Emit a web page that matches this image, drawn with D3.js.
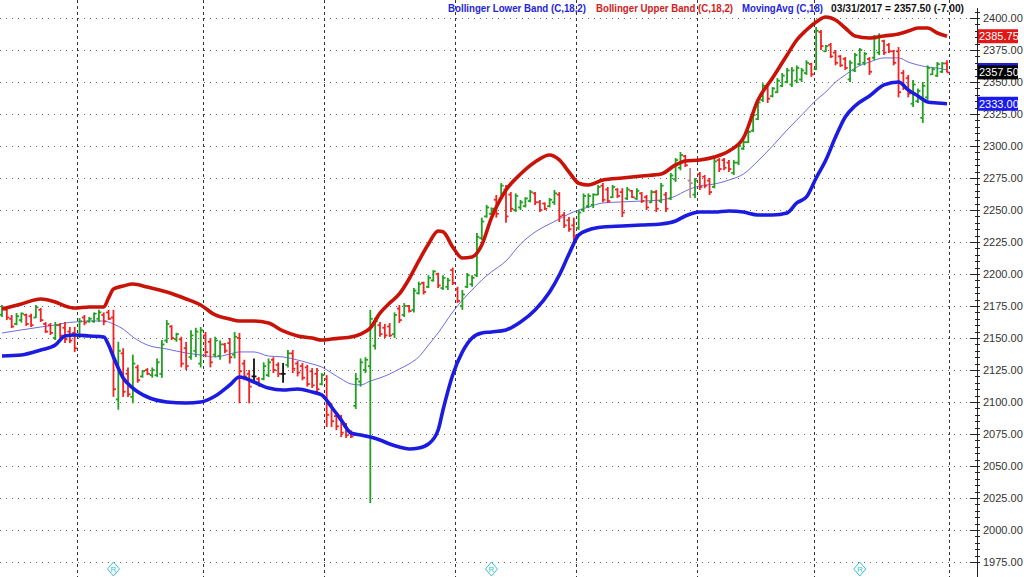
<!DOCTYPE html>
<html>
<head>
<meta charset="utf-8">
<script src="https://cdn.jsdelivr.net/npm/d3@7"></script>
<style>
  body { margin: 0; background: #fff; }
  svg { display: block; font-family: Arial, "Liberation Sans", sans-serif; }
</style>
</head>
<body>
<div id="chart"></div>
<script>
// bars: [open, high, low, close]
var bars = [
  [2168,2175.8,2166.4,2174],[2172,2173.4,2164,2166],[2165,2168,2157.8,2159],[2161,2169.5,2160,2167],
  [2164,2170,2162,2169],[2168,2169,2159.4,2161],[2167,2169,2158.6,2160],[2166,2175.8,2165.6,2174],
  [2172,2173.4,2162.5,2164],[2161,2162.5,2153.9,2155],[2160,2161.7,2152.3,2154],[2150,2162.5,2148.4,2160],
  [2160,2161.7,2150,2152],[2158,2162.5,2146,2149],[2155,2158.6,2146,2148],[2154,2158.6,2139,2142],
  [2152,2165.6,2150,2163],[2166,2168,2160,2162],[2163,2166.4,2162,2165],[2163,2170,2162,2169],
  [2165,2172,2162.5,2170],[2168,2170,2160,2163],[2170,2172,2164,2165],[2166,2172,2104,2110],
  [2102,2147,2094,2140],[2138,2142,2104,2108],[2122,2127,2104,2106],[2104,2137,2099,2130],
  [2127,2129,2115,2117],[2120,2125,2119,2124],[2125,2126.5,2121,2122],[2121,2127,2119,2125],
  [2121,2134,2119.5,2131],[2122,2148.4,2119,2145],[2148,2164,2146,2161],[2159,2160,2148.4,2150],
  [2149,2154,2147,2153],[2149,2151,2127,2130],[2142,2147,2125,2128],[2135,2156,2133,2152],
  [2140,2158,2135,2155],[2130,2158.6,2127,2156],[2152,2154.7,2135,2139],[2147,2150,2127,2131],
  [2137,2151,2135,2148],[2136,2148,2133,2145],[2145,2146,2138,2140],[2146,2150,2130,2135],
  [2137,2154.7,2134,2151],[2150,2154,2099,2124],[2130,2133,2117,2120],[2122,2125,2099,2112],
  [2120,2134,2114.6,2120],[2118,2119.5,2112,2113],[2118,2131,2117,2128],[2121,2134,2119.5,2131],
  [2133,2135,2122.6,2125],[2129,2131,2119.5,2122],[2122,2130.5,2115,2122],[2129,2140.6,2127,2138],
  [2138,2140.6,2122.6,2126],[2130,2132,2120,2123],[2128,2130.5,2117,2119],[2127,2129,2112,2114],
  [2124,2126.5,2111,2113],[2122,2126.5,2107,2110],[2114,2122.6,2113,2121],[2118,2121,2080.5,2090],
  [2097,2099,2080.5,2085],[2089,2091,2078,2081],[2086,2090,2072.6,2076],[2081,2083.6,2071.9,2074],
  [2077,2078,2071.9,2073],[2097,2122.6,2094.5,2118],[2116,2134,2112,2131],[2125,2135,2122.6,2133],
  [2128,2172,2021,2165],[2144,2166,2141,2163],[2160,2162.5,2151,2153],[2158,2161,2150,2152],
  [2159,2161.7,2150.8,2152],[2153,2170,2150,2168],[2173,2175.8,2161.7,2164],[2168,2177.3,2166.4,2175],
  [2175,2175.8,2170,2171],[2172,2189,2170,2187],[2185,2194,2184,2192],[2193,2194,2184,2186],
  [2190,2199,2189,2197],[2195,2203,2194,2202],[2200,2201,2189,2191],[2189,2199,2187.5,2197],
  [2190,2197,2187.5,2195],[2203,2205,2191.4,2193],[2188,2190,2177.3,2179],[2175,2187.5,2172,2184],
  [2190,2200.8,2189,2199],[2192,2199,2190,2197],[2199,2232,2197.7,2229],[2228,2244,2226.6,2241],
  [2245,2254,2244,2252],[2247,2252,2246,2251],[2258,2261.7,2244,2247],[2259,2271,2257.8,2269],
  [2266,2269.5,2240,2245],[2262,2264,2248.4,2251],[2250,2263,2248.4,2261],[2252,2257.8,2250,2256],
  [2253,2260,2252,2259],[2257,2265.6,2256,2264],[2263,2264,2254,2256],[2256,2257.8,2248.4,2250],
  [2255,2256,2250,2251],[2253,2259.4,2252,2258],[2256,2265.6,2254,2263],[2262,2264,2240.6,2245],
  [2246,2248.4,2236,2238],[2242,2244.5,2233,2235],[2238,2244,2224,2230],[2236,2250,2234.4,2248],
  [2250,2263,2248.4,2261],[2253,2263,2251.5,2261],[2254,2263,2251.5,2262],[2262,2269.5,2261.7,2268],
  [2269,2271,2256,2258],[2266,2268,2255.5,2257],[2260,2269.5,2259.4,2268],[2266,2267,2259.4,2261],
  [2264,2267,2244.5,2248],[2259,2268,2257.8,2266],[2265,2265.6,2259.4,2260],[2259,2267,2257.8,2265],
  [2263,2264,2255.5,2257],[2260,2261.7,2250,2252],[2256,2265.6,2255.5,2264],[2264,2265.6,2248.4,2251],
  [2257,2271,2255.5,2269],[2262,2264,2248.4,2251],[2259,2279,2257.8,2277],[2274,2290.6,2271.9,2289],
  [2283,2295.3,2281,2293],[2292,2293,2283.6,2285],[2273,2282.8,2259.4,2271],[2262,2275,2259.4,2273],
  [2278,2279.7,2265.6,2268],[2276,2277.3,2267,2269],[2273,2275,2261.7,2264],[2268,2290.6,2267,2288],
  [2289,2290.6,2279.7,2282],[2289,2290.6,2281,2283],[2287,2289,2279.7,2282],[2279,2289,2277.3,2287],
  [2287,2302,2285,2300],[2298,2304.7,2296.9,2303],[2303,2312.5,2302.3,2311],[2312,2325.8,2311,2324],
  [2321,2336,2320.3,2334],[2336,2349,2334.4,2347],[2347,2349,2333.6,2337],[2339,2346,2338,2345],
  [2342,2353,2341.4,2351],[2347,2357,2346,2355],[2350,2361,2349,2359],[2348,2361.7,2346,2359],
  [2351,2363,2349,2361],[2352,2361,2350,2359],[2357,2367,2355.5,2365],[2364,2365,2354,2356],
  [2360,2393,2359.4,2390],[2389,2390.6,2375,2378],[2374,2379,2373.4,2378],[2379,2380.5,2368.75,2370],
  [2373,2375,2363,2365],[2370,2371,2361.7,2363],[2368,2369.5,2359.4,2361],[2352,2367,2350,2365],
  [2359,2372.6,2357.8,2371],[2364,2376.6,2363,2375],[2365,2373.4,2363,2372],[2368,2369.5,2355.5,2358],
  [2369,2386.7,2367,2384],[2373,2388,2371,2386],[2382,2383,2371,2373],[2379,2380.5,2372.6,2374],
  [2374,2375,2363,2365],[2374,2377.3,2338,2342],[2357,2359.4,2343.75,2346],[2353,2355.5,2338,2341],
  [2333,2351.6,2330.5,2348],[2335,2345,2333.6,2343],[2322,2350,2318,2347],[2338,2363,2336,2361],
  [2356,2361.7,2355.5,2360],[2355,2365.6,2354,2364],[2358,2365.6,2357,2364.5],[2364.5,2367,2357.5,2357.5]
];
var mutedBars = [142];

var bandIdx = [0,4,8,11,13,15,18,21,22,23, 25,27,30,34,38,41,44,47,49,52,
  55,58,61,64,66,68,70,72,74,76, 78,80,82,84,86,88,90,91,93,95,
  97,99,101,104,107,110,113,115,117,119, 121,124,128,132,136,139,141,144,147,150,
  153,156,159,162,164,166,168,170,172,174, 176,179,182,185,187,189,191,193,195];
var upperBand = [2172.7,2176.6,2180.5,2178.1,2175.0,2173.4,2174.2,2174.2,2181.3,2188.3,
  2190.6,2192.2,2189.8,2185.9,2180.5,2175.8,2168.0,2164.8,2163.3,2163.3,
  2161.7,2155.5,2151.6,2150.0,2148.4,2149.2,2150.0,2150.8,2153.1,2157.8,
  2169.5,2177.3,2184.4,2196.1,2210.2,2223.4,2233.6,2233.0,2221.1,2212.5,
  2213.3,2222.7,2243.8,2265.6,2278.1,2287.5,2293.0,2289.1,2279.7,2270.9,
  2269.5,2273.4,2275.0,2276.6,2278.1,2285.2,2288.3,2289.1,2291.4,2296.1,
  2306.3,2335.9,2353.1,2371.1,2382.8,2390.6,2396.9,2400.8,2398.4,2392.2,
  2386.0,2384.4,2386.0,2387.5,2389.8,2392.2,2392.2,2388.3,2385.75];
var lowerBand = [2135.9,2136.7,2140.6,2144.5,2151.6,2152.3,2151.6,2150.8,2144.5,2135.2,
  2118.8,2110.9,2103.9,2100.0,2099.2,2100.0,2104.7,2113.3,2119.5,2115.6,
  2110.9,2109.4,2110.2,2107.8,2105.5,2096.1,2085.9,2075.8,2074.2,2072.7,
  2070.3,2067.2,2064.8,2063.3,2064.1,2067.2,2078.1,2093.8,2121.1,2139.1,
  2150.0,2153.9,2154.7,2156.3,2162.5,2171.9,2185.9,2199.2,2215.6,2230.5,
  2234.4,2236.7,2237.5,2238.3,2239.1,2241.4,2245.3,2248.4,2248.4,2249.2,
  2248.4,2246.1,2246.1,2247.7,2255.5,2260.2,2275.0,2289.1,2307.0,2322.7,
  2331.3,2339.1,2347.7,2350.0,2343.8,2339.1,2334.4,2333.6,2333.0];
var movingAvg = [2153.9,2156.3,2158.6,2160.2,2161.7,2162.5,2163.3,2163.3,2162.5,2160.9,
  2157.0,2150.8,2144.5,2141.4,2138.3,2136.7,2135.2,2137.5,2139.1,2139.1,
  2135.9,2135.2,2132.8,2129.7,2127.3,2122.7,2118.0,2114.1,2113.3,2116.4,
  2118.8,2121.9,2125.8,2129.7,2135.2,2144.5,2154.0,2159.4,2170.3,2179.7,
  2187.5,2195.3,2201.6,2210.2,2223.4,2232.8,2239.1,2243.0,2246.9,2250.0,
  2252.3,2255.5,2256.3,2257.0,2257.8,2260.9,2264.8,2268.8,2270.3,2273.4,
  2278.1,2288.3,2300.0,2312.5,2320.3,2328.1,2335.9,2342.2,2350.0,2355.5,
  2360.9,2365.6,2368.8,2368.8,2365.6,2363.3,2361.7,2360.9,2359.4];

var monthStarts = [16, 42, 67, 94, 119, 144, 168, 196];
var rollMarks = [23, 101, 177];
var priceTicks = d3.range(1975, 2401, 25);
var minorTicks = d3.range(1975, 2406, 5);

var legendItems = [
  {text: "Bollinger Lower Band (C,18,2)", color: "#2424d8", x: 448, w: 138},
  {text: "Bollinger Upper Band (C,18,2)", color: "#d02020", x: 596, w: 137},
  {text: "MovingAvg (C,18)", color: "#2424d8", x: 742, w: 81},
  {text: "03/31/2017 = 2357.50 (-7.00)", color: "#111", x: 831, w: 133}
];

var W = 1024, H = 577;
var axis_x = 977;

var x = d3.scaleLinear().domain([0, bars.length - 1]).range([2, 947]);
var y = d3.scaleLinear().domain([1975, 2400]).range([562, 18]);

var svg = d3.select("#chart").append("svg")
  .attr("width", W)
  .attr("height", H);

// horizontal dotted grid
svg.append("g").selectAll("line")
  .data(priceTicks)
  .enter().append("line")
    .attr("x1", 0).attr("x2", axis_x)
    .attr("y1", function(d) { return Math.round(y(d)) + 0.5; })
    .attr("y2", function(d) { return Math.round(y(d)) + 0.5; })
    .attr("stroke", "#666")
    .attr("stroke-dasharray", "1,5");

// month separators
svg.append("g").selectAll("line")
  .data(monthStarts)
  .enter().append("line")
    .attr("x1", function(d) { return Math.round(x(d - 0.5)) + 0.5; })
    .attr("x2", function(d) { return Math.round(x(d - 0.5)) + 0.5; })
    .attr("y1", 0).attr("y2", H)
    .attr("stroke", "#333")
    .attr("stroke-dasharray", "3,3");

function bandLine(vals) {
  return d3.line()
    .x(function(d, i) { return x(bandIdx[i]); })
    .y(function(d) { return y(d); })
    .curve(d3.curveMonotoneX)(vals);
}
svg.append("path").attr("d", bandLine(movingAvg))
  .attr("fill", "none").attr("stroke", "#5a5ae0").attr("stroke-width", 0.9);

// bars
function barColor(d, i) {
  if (mutedBars.indexOf(i) >= 0) return "#b08a8a";
  if (d[3] > d[0]) return "#22a022";
  if (d[3] < d[0]) return "#f02424";
  return "#111";
}
var bar_g = svg.append("g").selectAll("g")
  .data(bars)
  .enter().append("g")
    .attr("stroke", barColor)
    .attr("stroke-width", 1.8);
bar_g.append("line")
  .attr("x1", function(d, i) { return x(i); })
  .attr("x2", function(d, i) { return x(i); })
  .attr("y1", function(d) { return y(d[1]); })
  .attr("y2", function(d) { return y(d[2]); });
bar_g.append("line")
  .attr("x1", function(d, i) { return x(i) - 2.5; })
  .attr("x2", function(d, i) { return x(i); })
  .attr("y1", function(d) { return y(d[0]); })
  .attr("y2", function(d) { return y(d[0]); });
bar_g.append("line")
  .attr("x1", function(d, i) { return x(i); })
  .attr("x2", function(d, i) { return x(i) + 2.5; })
  .attr("y1", function(d) { return y(d[3]); })
  .attr("y2", function(d) { return y(d[3]); });

svg.append("path").attr("d", bandLine(upperBand))
  .attr("fill", "none").attr("stroke", "#c81408").attr("stroke-width", 3.6)
  .attr("stroke-linejoin", "round");
svg.append("path").attr("d", bandLine(lowerBand))
  .attr("fill", "none").attr("stroke", "#1c1ce0").attr("stroke-width", 3.6)
  .attr("stroke-linejoin", "round");

// right price axis
var ax = svg.append("g");
ax.append("line")
  .attr("x1", axis_x + 0.5).attr("x2", axis_x + 0.5)
  .attr("y1", 8).attr("y2", H)
  .attr("stroke", "#222");
ax.selectAll(".minor")
  .data(minorTicks)
  .enter().append("line")
    .attr("class", "minor")
    .attr("x1", axis_x - 2).attr("x2", axis_x + 3)
    .attr("y1", function(d) { return Math.round(y(d)) + 0.5; })
    .attr("y2", function(d) { return Math.round(y(d)) + 0.5; })
    .attr("stroke", "#222");
ax.selectAll(".major")
  .data(priceTicks)
  .enter().append("line")
    .attr("class", "major")
    .attr("x1", axis_x - 7).attr("x2", axis_x + 3)
    .attr("y1", function(d) { return Math.round(y(d)) + 0.5; })
    .attr("y2", function(d) { return Math.round(y(d)) + 0.5; })
    .attr("stroke", "#222");
ax.selectAll("text")
  .data(priceTicks)
  .enter().append("text")
    .attr("x", axis_x + 6)
    .attr("y", function(d) { return y(d); })
    .attr("dy", "0.35em")
    .attr("font-size", 11)
    .attr("fill", "#333")
    .text(function(d) { return d3.format(".2f")(d); });

// last value flags
var flags = [
  {v: movingAvg[movingAvg.length - 1], bg: "#2020d0", show: false},
  {v: upperBand[upperBand.length - 1], bg: "#e01818", show: true},
  {v: bars[bars.length - 1][3], bg: "#000", show: true},
  {v: lowerBand[lowerBand.length - 1], bg: "#1a1af0", show: true}
];
var flag_g = svg.append("g").selectAll("g")
  .data(flags)
  .enter().append("g");
flag_g.append("rect")
  .attr("x", axis_x + 1)
  .attr("y", function(d) { return y(d.v) - 7; })
  .attr("width", 40).attr("height", 14)
  .attr("fill", function(d) { return d.bg; });
flag_g.filter(function(d) { return d.show; }).append("text")
  .attr("x", axis_x + 2)
  .attr("y", function(d) { return y(d.v); })
  .attr("dy", "0.36em")
  .attr("font-size", 11)
  .attr("fill", "#fff")
  .text(function(d) { return d3.format(".2f")(d.v); });

// contract roll markers
var rm = svg.append("g").selectAll("g")
  .data(rollMarks)
  .enter().append("g")
    .attr("transform", function(d) { return "translate(" + x(d) + ",569)"; });
rm.append("path")
  .attr("d", "M0,-7L6,0L0,7L-6,0Z")
  .attr("fill", "none").attr("stroke", "#38c0d0").attr("stroke-width", 1);
rm.append("text")
  .attr("text-anchor", "middle").attr("dy", "0.35em")
  .attr("font-size", 8).attr("fill", "#38c0d0")
  .text("R");

// legend, squeezed to the narrow widths of the original
svg.append("g").selectAll("text")
  .data(legendItems)
  .enter().append("text")
    .attr("x", function(d) { return d.x; })
    .attr("y", 12)
    .attr("font-size", 11)
    .attr("font-weight", "bold")
    .attr("fill", function(d) { return d.color; })
    .attr("textLength", function(d) { return d.w; })
    .attr("lengthAdjust", "spacingAndGlyphs")
    .text(function(d) { return d.text; });
</script>
</body>
</html>
